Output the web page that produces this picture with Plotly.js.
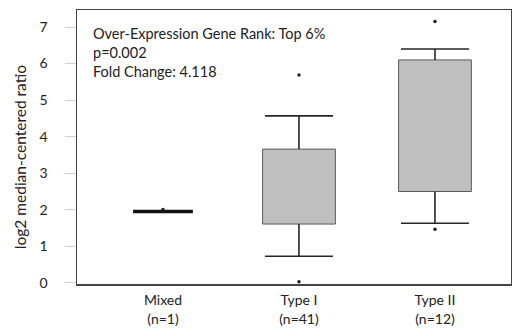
<!DOCTYPE html>
<html>
<head>
<meta charset="utf-8">
<script src="https://cdn.plot.ly/plotly-3.0.1.min.js"></script>
<style>html,body{margin:0;padding:0;background:#fff;}#chart{width:512px;height:333px;}</style>
</head>
<body>
<div id="chart"></div>
<script>
// ---- data ----
var categories = ["Mixed", "Type I", "Type II"];
var sampleCounts = ["(n=1)", "(n=41)", "(n=12)"];
var q1 = [1.95, 1.61, 2.50];
var q3 = [1.95, 3.66, 6.10];
var whiskerLow = [null, 0.73, 1.63];
var whiskerHigh = [null, 4.57, 6.40];
var minVals = [2.01, 0.03, 1.47];
var maxVals = [2.01, 5.69, 7.15];
var statsLines = ["Over-Expression Gene Rank: Top 6%", "p=0.002", "Fold Change: 4.118"];
var yTitle = "log2 median-centered ratio";

// ---- build traces ----
var xpos = categories.map(function (c, i) { return i; });
var boxIdx = xpos.filter(function (i) { return q3[i] > q1[i]; });
var singleIdx = xpos.filter(function (i) { return !(q3[i] > q1[i]); });
var boxWidth = 0.535;
var capHalf = 0.25;
var singleHalf = 0.22;

var boxes = {
  type: "bar",
  x: boxIdx.map(function (i) { return xpos[i]; }),
  base: boxIdx.map(function (i) { return q1[i]; }),
  y: boxIdx.map(function (i) { return q3[i] - q1[i]; }),
  width: boxWidth,
  marker: { color: "#bfbfbf", line: { color: "#5a5a5a", width: 1 } },
  hoverinfo: "skip"
};

var wx = [], wy = [];
boxIdx.forEach(function (i) {
  wx.push(xpos[i], xpos[i], null, xpos[i] - capHalf, xpos[i] + capHalf, null);
  wy.push(q3[i], whiskerHigh[i], null, whiskerHigh[i], whiskerHigh[i], null);
  wx.push(xpos[i], xpos[i], null, xpos[i] - capHalf, xpos[i] + capHalf, null);
  wy.push(q1[i], whiskerLow[i], null, whiskerLow[i], whiskerLow[i], null);
});
var whiskers = {
  type: "scatter", mode: "lines", x: wx, y: wy,
  line: { color: "#262626", width: 1.6 }, hoverinfo: "skip"
};

var sx = [], sy = [];
singleIdx.forEach(function (i) {
  sx.push(xpos[i] - singleHalf, xpos[i] + singleHalf, null);
  sy.push(q1[i], q1[i], null);
});
var singles = {
  type: "scatter", mode: "lines", x: sx, y: sy,
  line: { color: "#111", width: 3.5 }, hoverinfo: "skip"
};

var ox = [], oy = [];
xpos.forEach(function (i) {
  ox.push(xpos[i]); oy.push(maxVals[i]);
  if (minVals[i] !== maxVals[i]) { ox.push(xpos[i]); oy.push(minVals[i]); }
});
var outliers = {
  type: "scatter", mode: "markers", x: ox, y: oy,
  marker: { color: "#222", size: 3.5 }, hoverinfo: "skip"
};

var font = "Lato, 'Open Sans', sans-serif";
var layout = {
  width: 512, height: 333,
  margin: { l: 77, r: 1, t: 10, b: 49 },
  paper_bgcolor: "#fff", plot_bgcolor: "#fff",
  showlegend: false,
  font: { family: font, size: 14, color: "#222" },
  xaxis: {
    range: [-0.632, 2.559],
    tickvals: xpos,
    ticktext: categories.map(function (c, i) { return c + "<br>" + sampleCounts[i]; }),
    showgrid: false, zeroline: false,
    showline: true, mirror: true, linecolor: "#444", linewidth: 1.5,
    ticks: "", ticklabelstandoff: 3,
    tickfont: { family: font, size: 14, color: "#222" }
  },
  yaxis: {
    range: [-0.03, 7.465],
    tickvals: [0, 1, 2, 3, 4, 5, 6, 7],
    showgrid: false, zeroline: false,
    showline: true, mirror: true, linecolor: "#444", linewidth: 1.5,
    ticks: "outside", ticklen: 11, tickcolor: "#cfcfcf", tickwidth: 1,
    ticklabelstandoff: 14,
    tickfont: { family: font, size: 14, color: "#222" }
  },
  annotations: [{
    xref: "paper", yref: "paper", x: 0.033, y: 0.952,
    xanchor: "left", yanchor: "top", align: "left", showarrow: false,
    text: statsLines.join("<br>"),
    font: { family: font, size: 14.5, color: "#222" }
  }, {
    xref: "paper", yref: "paper", x: -0.131, y: 0.4635,
    xanchor: "center", yanchor: "middle", textangle: -90, showarrow: false,
    text: yTitle,
    font: { family: font, size: 15.5, color: "#222" }
  }]
};

Plotly.newPlot("chart", [boxes, whiskers, singles, outliers], layout, { staticPlot: true, displayModeBar: false });
</script>
</body>
</html>
